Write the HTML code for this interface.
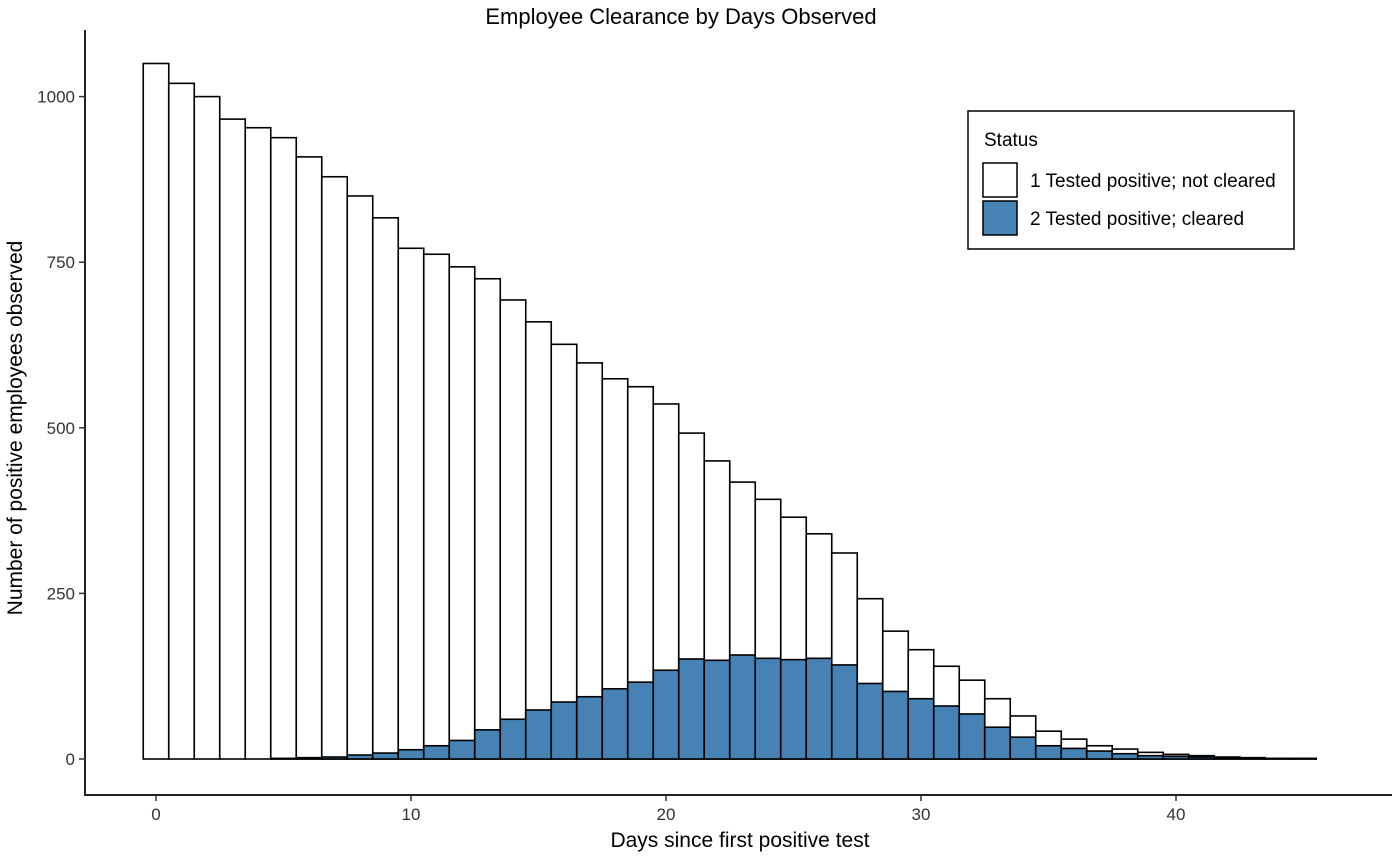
<!DOCTYPE html>
<html><head><meta charset="utf-8"><style>
body{margin:0;background:#fff;font-family:"Liberation Sans",Arial,sans-serif}
</style></head><body>
<svg id="chart" width="1398" height="854" xmlns="http://www.w3.org/2000/svg" font-family="Liberation Sans, Arial, sans-serif">
<text x="681" y="24" font-size="22" text-anchor="middle" fill="#000">Employee Clearance by Days Observed</text>
<g id="bars"></g>
<line x1="85" y1="30" x2="85" y2="796" stroke="#222" stroke-width="2"/>
<line x1="84" y1="795" x2="1392" y2="795" stroke="#222" stroke-width="2"/>
<g id="ticks"></g>
<text x="740" y="847" font-size="21" text-anchor="middle">Days since first positive test</text>
<text transform="translate(22,428) rotate(-90)" font-size="21" text-anchor="middle">Number of positive employees observed</text>
<g>
<rect x="968" y="111" width="326" height="138" fill="#fff" stroke="#000" stroke-width="1.5"/>
<text x="984" y="146" font-size="19">Status</text>
<rect x="983" y="163" width="34" height="34" fill="#fff" stroke="#000" stroke-width="1.5"/>
<text x="1030" y="187" font-size="19">1 Tested positive; not cleared</text>
<rect x="983" y="201" width="34" height="34" fill="#4682b4" stroke="#000" stroke-width="1.5"/>
<text x="1030" y="225" font-size="19">2 Tested positive; cleared</text>
</g>
</svg>
<script>
const days=[0,1,2,3,4,5,6,7,8,9,10,11,12,13,14,15,16,17,18,19,20,21,22,23,24,25,26,27,28,29,30,31,32,33,34,35,36,37,38,39,40,41,42,43,44,45];
const totals=[1050,1020,1000,966,953,938,909,879,850,817,771,762,743,725,693,660,626,598,574,562,536,492,450,418,392,365,340,311,242,193,165,140,119,91,65,42,30,20,15,10,7,5,3,2,1,1];
const cleared=[0,0,0,0,0,1,2,3,6,9,14,20,28,44,60,74,86,94,106,116,134,151,149,157,152,150,152,142,114,102,91,80,68,48,33,20,16,12,8,5,4,3,2,1,0.5,0.5];
const xTicks=[0,10,20,30,40];
const yTicks=[0,250,500,750,1000];
const xs=d=>156+d*25.5, ys=v=>759-v*0.6624, bw=25.5;
const NS="http://www.w3.org/2000/svg";
const g=document.getElementById('bars'), t=document.getElementById('ticks');
function mk(tag,attrs,parent){const e=document.createElementNS(NS,tag);for(const k in attrs)e.setAttribute(k,attrs[k]);parent.appendChild(e);return e;}
days.forEach((d,i)=>{
 const x=xs(d)-bw/2;
 const r1=mk('rect',{x:x,y:ys(totals[i]),width:bw,height:ys(0)-ys(totals[i]),fill:'#fff',stroke:'#000','stroke-width':1.6},g);
 
 
 if(cleared[i]>0){
  const r2=mk('rect',{x:x,y:ys(cleared[i]),width:bw,height:ys(0)-ys(cleared[i]),fill:'#4682b4',stroke:'#000','stroke-width':1.6},g);
  
  
 }
});
xTicks.forEach(v=>{
 mk('line',{x1:xs(v),x2:xs(v),y1:795,y2:801,stroke:'#333','stroke-width':1.5},t);
 const e=mk('text',{x:xs(v),y:820,'font-size':17,'text-anchor':'middle',fill:'#333'},t);e.textContent=v;
 
 
});
yTicks.forEach(v=>{
 mk('line',{x1:79,x2:85,y1:ys(v),y2:ys(v),stroke:'#333','stroke-width':1.5},t);
 const e=mk('text',{x:75,y:ys(v)+6,'font-size':17,'text-anchor':'end',fill:'#333'},t);e.textContent=v;
 
 
});
</script>
</body></html>
